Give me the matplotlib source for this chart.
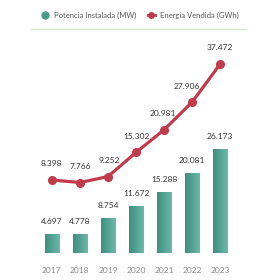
import matplotlib
matplotlib.use("Agg")
import matplotlib.pyplot as plt
import numpy as np
from matplotlib.colors import LinearSegmentedColormap
from matplotlib.lines import Line2D

plt.rcParams["font.family"] = ["Lato", "DejaVu Sans"]

years = ["2017", "2018", "2019", "2020", "2021", "2022", "2023"]
potencia_mw = [4697, 4778, 8754, 11672, 15288, 20081, 26173]
energia_gwh = [8398, 7766, 9252, 15302, 20981, 27906, 37472]

BAR_DARK = "#3f8e7f"
BAR_LIGHT = "#6cb9a8"
LINE_RED = "#c23b4c"
TEXT = "#333333"
GRAY = "#8a8a8a"


def fmt(v):
	return f"{v:,}".replace(",", ".")


fig = plt.figure(figsize=(2.8, 2.8), dpi=100)
ax = fig.add_axes([35 / 280, 27 / 280, 202 / 280, 213 / 280])
ax2 = ax.twinx()

x = np.arange(len(years))
width = 0.52

cmap = LinearSegmentedColormap.from_list("teal", [BAR_DARK, BAR_LIGHT])
grad = np.linspace(0, 1, 64).reshape(1, -1)
bars = ax.bar(x, potencia_mw, width=width, color="none", edgecolor="none")
for b, v in zip(bars, potencia_mw):
	x0 = b.get_x()
	ax.imshow(grad, cmap=cmap, extent=[x0, x0 + width, 0, v], aspect="auto", zorder=2)
	ax.annotate(fmt(v), (x0 + width / 2, v), xytext=(0, 13), textcoords="offset pixels",
				ha="center", va="center", fontsize=6, color=TEXT)
# imshow resets the limits, so set them afterwards
ax.set_xlim(-0.6, len(years) - 0.4)
ax.set_ylim(0, 53900)
ax2.set_ylim(-9900, 43480)

ax2.plot(x, energia_gwh, color=LINE_RED, lw=2.3, marker="o", ms=5.5, zorder=3)
label_dx = [0, 0, 1, 0, -1, -5, 0]
for xi, v, dx in zip(x, energia_gwh, label_dx):
	ax2.annotate(fmt(v), (xi, v), xytext=(dx, 16), textcoords="offset pixels",
				 ha="center", va="center", fontsize=6, color=TEXT)

for a in (ax, ax2):
	for s in a.spines.values():
		s.set_visible(False)
	a.set_yticks([])
ax.set_xticks(x)
ax.set_xticklabels(years, fontsize=6, color=GRAY)
ax.tick_params(axis="x", length=0, pad=10)

handles = [
	Line2D([], [], color="#4a9a8a", marker="o", ls="none", ms=5),
	Line2D([], [], color=LINE_RED, marker="o", lw=2, ms=4),
]
fig.legend(handles, ["Potencia Instalada (MW)", "Energia Vendida (GWh)"], loc="center",
		   bbox_to_anchor=(0.5, 1 - 15 / 280), ncol=2, frameon=False, fontsize=5.5,
		   labelcolor="#555555", handlelength=1.0, handletextpad=0.6, columnspacing=1.5)
fig.add_artist(Line2D([31 / 280, 245 / 280], [1 - 29 / 280, 1 - 29 / 280], color="#d2e6cc", lw=1))

fig.savefig("out.png", dpi=100)
